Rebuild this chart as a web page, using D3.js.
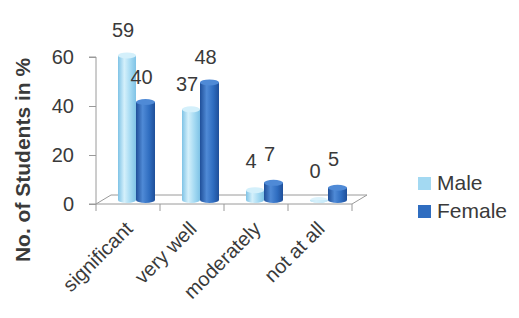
<!DOCTYPE html>
<html>
<head>
<meta charset="utf-8">
<script src="https://cdn.jsdelivr.net/npm/d3@7"></script>
<style>
  html, body { margin: 0; padding: 0; background: #fff; }
  svg { display: block; font-family: "Liberation Sans", Arial, sans-serif; }
</style>
</head>
<body>
<svg id="chart" width="519" height="318"></svg>
<script>
const categories = ["significant", "very well", "moderately", "not at all"];
const seriesNames = ["Male", "Female"];
const maleValues = [59, 37, 4, 0];
const femaleValues = [40, 48, 7, 5];
const yTicks = [0, 20, 40, 60];
const yTitle = "No. of Students in %";

const colors = { Male: "#a3d9f2", Female: "#2f6dc0" };
const dark = { Male: "#7fc3e6", Female: "#1f4f99" };
const light = { Male: "#d4f0fb", Female: "#4f8ad6" };

const svg = d3.select("#chart");
const defs = svg.append("defs");
seriesNames.forEach(s => {
  const g = defs.append("linearGradient").attr("id", "grad-" + s)
    .attr("x1", "0%").attr("x2", "100%").attr("y1", "0%").attr("y2", "0%");
  g.append("stop").attr("offset", "0%").attr("stop-color", dark[s]);
  g.append("stop").attr("offset", "35%").attr("stop-color", light[s]);
  g.append("stop").attr("offset", "70%").attr("stop-color", colors[s]);
  g.append("stop").attr("offset", "100%").attr("stop-color", dark[s]);
});

// scales
const x = d3.scaleBand().domain(categories).range([96, 352]).padding(0);
const yAxisScale = d3.scaleLinear().domain([0, 60]).range([204, 57]);
const yBar = d3.scaleLinear().domain([0, 60]).range([200, 53]);
const depth = { dx: 15, dy: -9 };

// floor (3D plane)
const fx0 = x.range()[0], fx1 = x.range()[1], fy = yAxisScale(0);
svg.append("path")
  .attr("d", `M${fx0},${fy} L${fx1},${fy} L${fx1 + depth.dx},${fy + depth.dy} L${fx0 + depth.dx},${fy + depth.dy} Z`)
  .attr("fill", "#fff").attr("stroke", "#9a9a9a").attr("stroke-width", 1);

// y axis
const yAxis = d3.axisLeft(yAxisScale).tickValues(yTicks).tickSize(7).tickPadding(15);
const gy = svg.append("g").attr("transform", "translate(96,0)").call(yAxis);
gy.select(".domain").attr("stroke", "#9a9a9a").attr("d", `M-7,${yAxisScale(60)}H0V${yAxisScale(0)}H-7`);
gy.selectAll(".tick line").attr("stroke", "#9a9a9a");
gy.selectAll(".tick text").attr("font-size", 20).attr("fill", "#3a3a3a")
  .attr("font-family", "Liberation Sans, Arial, sans-serif");

// x axis ticks
const xTickPos = categories.map(c => x(c)).concat([x.range()[1]]);
svg.append("g").selectAll("line").data(xTickPos).join("line")
  .attr("x1", d => d).attr("x2", d => d)
  .attr("y1", fy).attr("y2", fy + 7)
  .attr("stroke", "#9a9a9a");

// x labels
svg.append("g").selectAll("text").data(categories).join("text")
  .attr("transform", d => `translate(${x(d) + x.bandwidth() / 2 + 6},${fy + 26}) rotate(-45)`)
  .attr("text-anchor", "end")
  .attr("font-size", 20)
  .attr("fill", "#3a3a3a")
  .text(d => d);

// bars (cylinders)
const barW = { Male: 18, Female: 19 };
const barOff = { Male: 22, Female: 40 };
const ry = 3;
const data = [];
categories.forEach((c, i) => {
  data.push({ c, s: "Male", v: maleValues[i] });
  data.push({ c, s: "Female", v: femaleValues[i] });
});
const bars = svg.append("g").selectAll("g").data(data).join("g");
bars.each(function(d) {
  const g = d3.select(this);
  const x0 = x(d.c) + barOff[d.s];
  const w = barW[d.s];
  const top = yBar(d.v);
  const base = yBar(0);
  g.append("path")
    .attr("d", `M${x0},${top} L${x0},${base} A${w / 2},${ry} 0 0 0 ${x0 + w},${base} L${x0 + w},${top} Z`)
    .attr("fill", `url(#grad-${d.s})`);
  g.append("ellipse")
    .attr("cx", x0 + w / 2).attr("cy", top)
    .attr("rx", w / 2).attr("ry", ry)
    .attr("fill", light[d.s]).attr("opacity", d.v > 0 ? 1 : 0.8);
});

// data labels
svg.append("g").selectAll("text").data(data).join("text")
  .attr("x", d => x(d.c) + barOff[d.s] + barW[d.s] / 2 - 4)
  .attr("y", d => yBar(d.v) - 18 - (d.v < 10 ? 4 : 0))
  .attr("text-anchor", "middle")
  .attr("font-size", 20)
  .attr("fill", "#3a3a3a")
  .text(d => d.v);

// y title
svg.append("text")
  .attr("transform", "translate(30,160) rotate(-90)")
  .attr("text-anchor", "middle")
  .attr("font-size", 21)
  .attr("font-weight", "bold")
  .attr("fill", "#3a3a3a")
  .text(yTitle);

// legend
const legend = svg.append("g").selectAll("g").data(seriesNames).join("g")
  .attr("transform", (d, i) => `translate(418,${190 + i * 28})`);
legend.append("rect").attr("width", 13).attr("height", 13).attr("y", -13)
  .attr("fill", d => colors[d]);
legend.append("text").attr("x", 19).attr("y", 0)
  .attr("font-size", 21).attr("fill", "#3a3a3a")
  .text(d => d);
</script>
</body>
</html>
